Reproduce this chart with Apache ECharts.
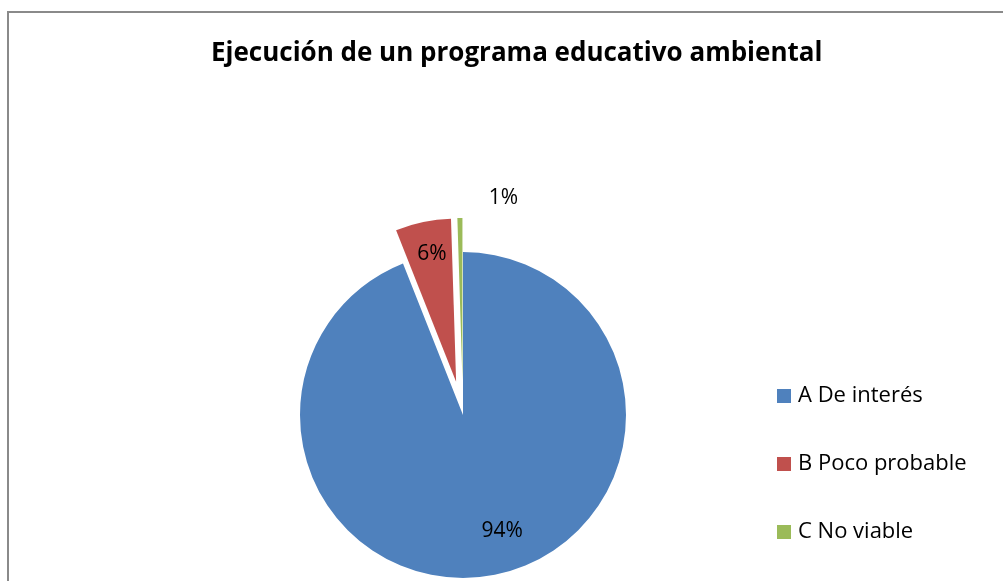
<!DOCTYPE html>
<html>
<head>
<meta charset="utf-8">
<script src="https://cdn.jsdelivr.net/npm/echarts@6/dist/echarts.min.js"></script>
<style>
  html, body { margin: 0; padding: 0; background: #fff; overflow: hidden; }
  #frame { position: absolute; left: 7px; top: 11px; width: 1010px; height: 600px;
           border-left: 2px solid #8a8a8a; border-top: 2px solid #8a8a8a; }
  #chart { position: absolute; left: 0; top: 0; width: 1003px; height: 581px; }
</style>
</head>
<body>
<div id="frame"></div>
<div id="chart"></div>
<script>
// values (percent)
const categories = ['A De interés', 'B Poco probable', 'C No viable']
const values = [94.0, 5.5, 0.5]
const colors = ['#4F81BD', '#C0504D', '#9BBB59']
const exploded = [false, true, true]
const labelPos = ['inside', 'inside', 'outside']

const cx = 463, cy = 415, r = 163

let chart = echarts.init(document.getElementById('chart'))

let pieData = []
for (let i = 0; i < categories.length; i++) {
  pieData.push({
    name: categories[i],
    value: values[i],
    selected: exploded[i],
    itemStyle: { color: colors[i] },
    label: { position: labelPos[i] }
  })
}

chart.setOption({
  animation: false,
  title: {
    text: 'Ejecución de un programa educativo ambiental',
    left: 206,
    top: 36,
    textStyle: { fontFamily: 'Open Sans', fontWeight: 'bold', fontSize: 26, color: '#000' }
  },
  legend: {
    orient: 'vertical',
    left: 772,
    top: 380,
    itemWidth: 14,
    itemHeight: 14,
    itemGap: 46,
    icon: 'rect',
    selectedMode: false,
    textStyle: { fontFamily: 'Open Sans', fontSize: 22, color: '#000', padding: [0, 0, 0, 2] },
    data: categories
  },
  series: [
    {
      type: 'pie',
      center: [cx, cy],
      radius: [0, r],
      startAngle: 90,
      clockwise: true,
      selectedMode: 'multiple',
      selectedOffset: 34,
      avoidLabelOverlap: false,
      emphasis: { disabled: true },
      label: {
        show: true,
        fontFamily: 'Open Sans',
        fontSize: 21,
        color: '#000',
        formatter: p => Math.round(p.value) + '%'
      },
      labelLine: { show: false, length: 4, length2: 0 },
      labelLayout: function (p) {
        let lx = p.labelRect.x + p.labelRect.width / 2
        let ly = p.labelRect.y + p.labelRect.height / 2
        if (p.dataIndex === 0) {
          return { dx: (lx - cx) * 0.47 + 16, dy: (ly - cy) * 0.47 - 6 }
        }
        if (labelPos[p.dataIndex] === 'inside') {
          return { dx: (lx - cx) * 0.47 + 1, dy: (ly - cy) * 0.47 - 6 }
        }
        return { dx: p.labelRect.width + 34, dy: -16 }
      },
      data: pieData
    }
  ]
})
</script>
</body>
</html>
